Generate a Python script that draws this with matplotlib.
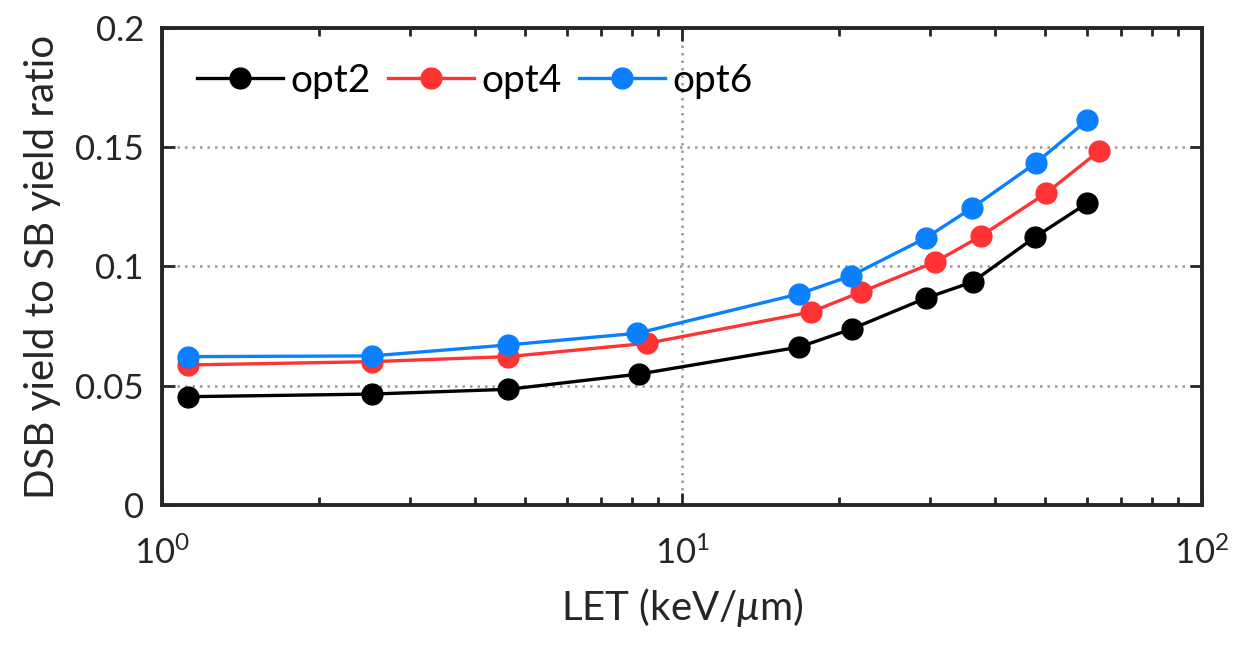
import matplotlib
matplotlib.use("Agg")
import matplotlib.pyplot as plt
from matplotlib.ticker import LogLocator, NullFormatter

plt.rcParams['font.family'] = ['Lato', 'DejaVu Sans']
plt.rcParams['mathtext.fontset'] = 'custom'
plt.rcParams['mathtext.rm'] = 'Lato'
plt.rcParams['mathtext.it'] = 'Lato:italic'

# LET values (keV/um)
let_opt2 = [1.12, 2.53, 4.63, 8.27, 16.8, 21.2, 29.5, 36.2, 47.8, 60.2]
let_opt4 = [1.12, 2.53, 4.63, 8.57, 17.7, 22.1, 30.7, 37.6, 50.2, 63.4]
let_opt6 = [1.12, 2.53, 4.63, 8.20, 16.8, 21.1, 29.4, 36.1, 47.9, 60.2]

# DSB/SB yield ratio
ratio_opt2 = [0.0454, 0.0465, 0.0485, 0.0549, 0.0662, 0.0738, 0.0868, 0.0935, 0.1124, 0.1266]
ratio_opt4 = [0.0587, 0.0601, 0.0622, 0.0678, 0.0809, 0.0893, 0.1019, 0.1128, 0.1308, 0.1484]
ratio_opt6 = [0.0622, 0.0625, 0.0671, 0.0720, 0.0885, 0.0960, 0.1119, 0.1245, 0.1434, 0.1614]

yticks = [0, 0.05, 0.1, 0.15, 0.2]
ytick_labels = ['0', '0.05', '0.1', '0.15', '0.2']

fig = plt.figure(figsize=(12.5, 6.46), dpi=100)
ax = fig.add_axes([0.1296, 0.2183, 0.832, 0.7384])

ax.plot(let_opt2, ratio_opt2, '-o', color='black', lw=2.4, ms=15, label='opt2')
ax.plot(let_opt4, ratio_opt4, '-o', color='#FF3333', lw=2.4, ms=15, label='opt4')
ax.plot(let_opt6, ratio_opt6, '-o', color='#0A80FF', lw=2.4, ms=15, label='opt6')

ax.set_xscale('log')
ax.set_xlim(1, 100)
ax.set_ylim(0, 0.2)
ax.set_yticks(yticks)
ax.set_yticklabels(ytick_labels)
ax.xaxis.set_minor_locator(LogLocator(base=10, subs=range(2, 10)))
ax.xaxis.set_minor_formatter(NullFormatter())

ax.grid(True, which='major', linestyle=(0, (1, 2)), color='#999999', lw=1.8)
ax.tick_params(which='both', direction='in', top=True, right=True,
               labelsize=25, colors='#262626', width=2)
ax.tick_params(which='major', length=9)
ax.tick_params(which='minor', length=6)
ax.tick_params(axis='y', which='major', pad=13)
ax.tick_params(axis='x', which='major', pad=22)
for s in ax.spines.values():
    s.set_linewidth(2.8)
    s.set_color('#262626')

ax.set_xlabel(r'LET (keV/$\mu$m)', fontsize=29, color='#262626', labelpad=12)
ax.set_ylabel('DSB yield to SB yield ratio', fontsize=29, color='#262626', labelpad=10)

ax.legend(loc='upper left', ncol=3, frameon=False, fontsize=28,
          handlelength=2.2, handletextpad=0.2, columnspacing=0.45,
          borderaxespad=0.5)

fig.savefig('out.png', dpi=100)
